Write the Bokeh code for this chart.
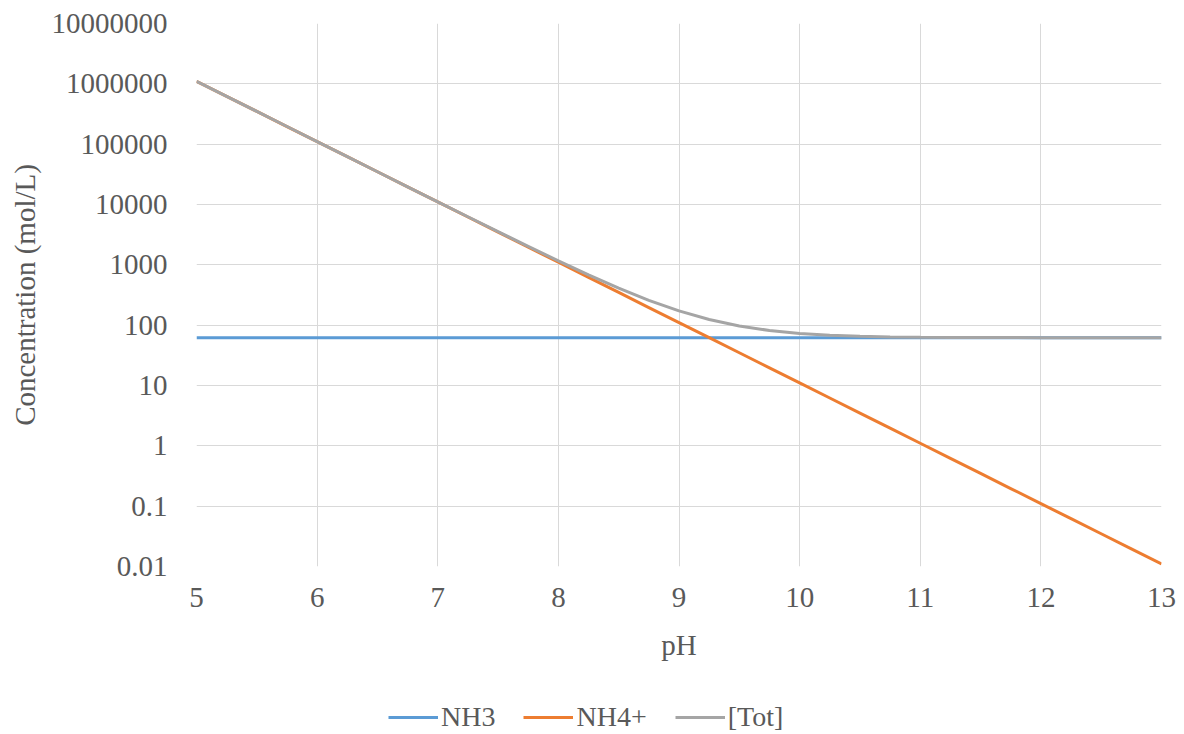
from bokeh.plotting import figure
from bokeh.layouts import column
from bokeh.models import (FixedTicker, CustomJSTickFormatter, Legend, LegendItem,
                          ColumnDataSource, Range1d)
from bokeh.embed import file_html
from bokeh.resources import INLINE

pH = [5, 5.25, 5.5, 5.75, 6, 6.25, 6.5, 6.75, 7, 7.25, 7.5, 7.75, 8, 8.25, 8.5, 8.75,
      9, 9.25, 9.5, 9.75, 10, 10.25, 10.5, 10.75, 11, 11.25, 11.5, 11.75, 12, 12.25,
      12.5, 12.75, 13]
nh3 = [62] * len(pH)
nh4 = [1103000, 620000, 348600, 196000, 110300, 62000, 34860, 19600, 11030, 6200,
       3486, 1960, 1103, 620, 348.6, 196, 110.3, 62, 34.86, 19.6, 11.03, 6.2, 3.486,
       1.96, 1.103, 0.62, 0.3486, 0.196, 0.1103, 0.062, 0.03486, 0.0196, 0.01103]
tot = [1103062, 620062, 348662, 196062, 110362, 62062, 34922, 19662, 11092, 6262,
       3548, 2022, 1165, 682, 410.6, 258, 172.3, 124, 96.86, 81.6, 73.03, 68.2, 65.49,
       63.96, 63.10, 62.62, 62.35, 62.2, 62.11, 62.06, 62.03, 62.02, 62.01]
x_ticks = [5, 6, 7, 8, 9, 10, 11, 12, 13]
y_ticks = [0.01, 0.1, 1, 10, 100, 1000, 10000, 100000, 1000000, 10000000]
labels = ["NH3", "NH4+", "[Tot]"]
colors = ["#5B9BD5", "#ED7D31", "#A5A5A5"]

FONT = "Liberation Serif, Times New Roman, serif"
TXT = "#595959"

src = ColumnDataSource(dict(pH=pH, nh3=nh3, nh4=nh4, tot=tot))

p = figure(width=1184, height=700, y_axis_type="log", output_backend="svg",
           toolbar_location=None, x_range=Range1d(5, 13), y_range=Range1d(0.01, 1e7),
           min_border_left=196, min_border_right=23, min_border_top=23,
           min_border_bottom=134)
p.outline_line_color = None
p.background_fill_color = "white"
p.border_fill_color = "white"

for col, c in zip(["nh3", "nh4", "tot"], colors):
    p.line("pH", col, source=src, line_color=c, line_width=3)

p.xaxis.ticker = FixedTicker(ticks=x_ticks)
p.yaxis.ticker = FixedTicker(ticks=y_ticks, minor_ticks=[])
p.yaxis.formatter = CustomJSTickFormatter(code="return Number(tick.toPrecision(3)).toString();")

for ax in (p.xaxis[0], p.yaxis[0]):
    ax.axis_line_color = None
    ax.major_tick_line_color = None
    ax.minor_tick_line_color = None
    ax.major_label_text_font = FONT
    ax.major_label_text_font_size = "29px"
    ax.major_label_text_color = TXT
    ax.axis_label_text_font = FONT
    ax.axis_label_text_font_size = "29px"
    ax.axis_label_text_color = TXT
    ax.axis_label_text_font_style = "normal"

p.xaxis.axis_label = "pH"
p.yaxis.axis_label = "Concentration (mol/L)"
p.xaxis.major_label_standoff = 15
p.xaxis.axis_label_standoff = 19
p.yaxis.major_label_standoff = 23
p.yaxis.axis_label_standoff = 8

p.xgrid.grid_line_color = "#D9D9D9"
p.ygrid.grid_line_color = "#D9D9D9"

# legend strip below the chart
lf = figure(width=1184, height=34, output_backend="svg", toolbar_location=None,
            x_range=Range1d(0, 1), y_range=Range1d(0, 1), min_border=0)
lf.axis.visible = False
lf.grid.visible = False
lf.outline_line_color = None
items = []
for lab, c in zip(labels, colors):
    r = lf.line(x=[-2, -1], y=[-2, -2], line_color=c, line_width=3)
    items.append(LegendItem(label=lab, renderers=[r]))
legend = Legend(items=items, orientation="horizontal", location=(192, 1),
                label_text_font=FONT, label_text_font_size="28px",
                label_text_color=TXT, glyph_width=50, glyph_height=20,
                label_standoff=3, spacing=28, padding=0, margin=0,
                border_line_color=None, background_fill_alpha=0)
lf.add_layout(legend, "center")

layout = column(p, lf, spacing=0)
open("out.html", "w").write(file_html(layout, INLINE))
